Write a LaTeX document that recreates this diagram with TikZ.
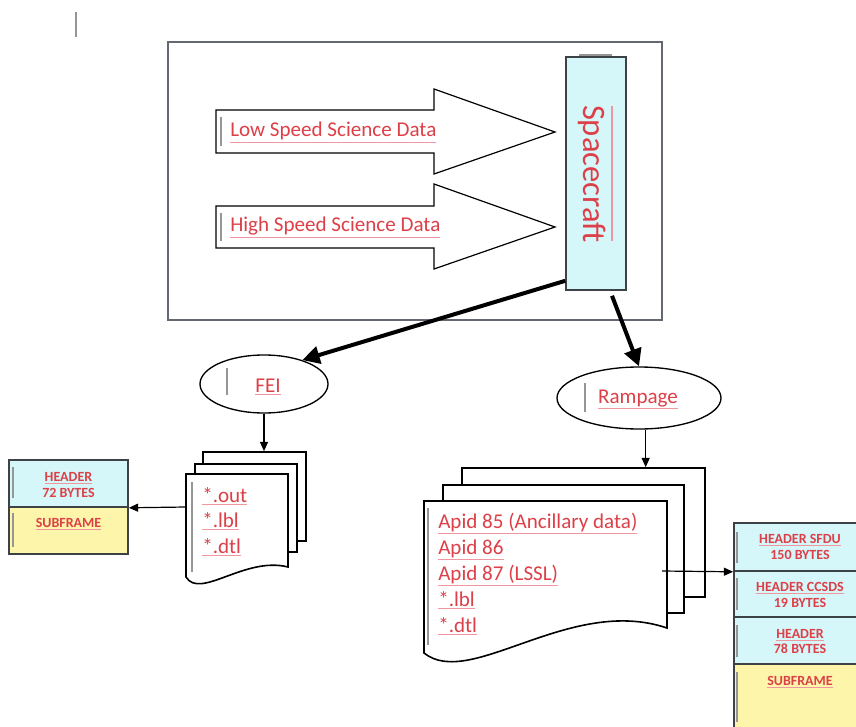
\documentclass[tikz,border=0pt]{standalone}
\usepackage{fontspec}
\setmainfont{Carlito}
\usetikzlibrary{arrows.meta,shapes.geometric,calc}
\definecolor{txtred}{RGB}{221,64,72}
\definecolor{ulpink}{RGB}{240,150,160}
\definecolor{cyanfill}{RGB}{214,247,250}
\definecolor{yelfill}{RGB}{252,245,170}
\definecolor{boxgrey}{RGB}{100,104,115}
\definecolor{barg}{RGB}{150,150,150}
\definecolor{edgegrey}{RGB}{60,66,70}
\newcommand\ulx[1]{\textcolor{ulpink}{\underline{\textcolor{txtred}{#1}}}}
\begin{document}
\begin{tikzpicture}[x=0.75pt,y=-0.75pt,
  lbl/.style={text=txtred,font=\fontsize{15.8}{18}\selectfont,inner sep=0pt},
  hdrtxt/.style={text=txtred,font=\bfseries\fontsize{10.5}{12}\selectfont,inner sep=0pt,align=center},
  bar/.style={draw=barg,line width=0.8pt},
  bigarrow/.style={line width=3pt,-{Triangle[length=13pt,width=13pt]}},
  smallarrow/.style={line width=0.9pt,-{Triangle[length=7pt,width=6pt]}},
  page/.style={draw=black,line width=1.2pt,fill=white,inner sep=0pt},
  fatshape/.style={draw=black,line width=0.9pt,fill=white},
  ellip/.style={ellipse,draw,line width=1pt,fill=white,inner sep=0pt},
  cell/.style={draw=edgegrey,line width=1.2pt,inner sep=0pt}
]
\useasboundingbox (0,0) rectangle (856,727);
\clip (0,0) rectangle (856,727);

% top-left cursor bar
\draw[bar] (76,12) -- (76,37);

% main frame
\node[draw=boxgrey,line width=1.2pt,minimum width=370.5pt,minimum height=208.5pt,inner sep=0pt] (main) at (415,181) {};

% big hollow arrows
\draw[fatshape] (216,110) -- (434,110) -- (434,89) -- (555,132) -- (434,174) -- (434,153) -- (216,153) -- cycle;
\draw[fatshape] (216,206) -- (434,206) -- (434,184) -- (555,227) -- (434,269) -- (434,248) -- (216,248) -- cycle;
\node[lbl,anchor=base west] (low) at (230,137) {\ulx{Low Speed Science Data}};
\node[lbl,anchor=base west] (high) at (230,232) {\ulx{High Speed Science Data}};
\draw[bar] (221,117) -- (221,146);
\draw[bar] (221,213) -- (221,241);

% spacecraft
\node[draw=edgegrey,line width=1.2pt,fill=cyanfill,minimum width=45pt,minimum height=174.75pt,inner sep=0pt] (sc) at (596,173.5) {};
\node[rotate=-90,text=txtred,font=\fontsize{24.5}{28}\selectfont,inner sep=0pt] (sct) at (592,174) {Spacecraft};
\draw[ulpink,line width=0.8pt] (612,106) -- (612,241);
\draw[bar] (579,55) -- (612,55);

% ellipses
\node[ellip,minimum width=96pt,minimum height=43.5pt] (fei) at (264,384) {};
\node[lbl,anchor=base] (feit) at (268,392) {\ulx{FEI}};
\draw[bar] (227,368) -- (227,395);
\node[ellip,minimum width=123pt,minimum height=46.5pt] (ram) at (639,398) {};
\node[lbl,anchor=base] (ramt) at (638,403) {\ulx{Rampage}};
\draw[bar] (585,383) -- (585,412);

% thick arrows
\draw[bigarrow] ([yshift=7.5pt]sc.south west) -- (fei.32);
\draw[bigarrow] ([xshift=12pt,yshift=-3.75pt]sc.south) -- (ram.north);

% FEI document stack
\node[page,minimum width=77.25pt,minimum height=66.75pt] (fp3) at (254.5,496.5) {};
\node[page,minimum width=76.5pt,minimum height=66pt] (fp2) at (246,508) {};
\draw[page] (186,474) -- (288,474) -- (288,567) .. controls (245,556) and (200,600) .. (186,577) -- cycle;
\coordinate (fpw) at (186,507);
\node[lbl,anchor=base west] (f1) at (202,502) {\ulx{*.out}};
\node[lbl,anchor=base west] (f2) at (202,527) {\ulx{*.lbl}};
\node[lbl,anchor=base west] (f3) at (202,553) {\ulx{*.dtl}};
\draw[bar] (192,482) -- (192,572);
\draw[smallarrow] (fei.south) -- (fei.south |- fp3.north);

% left box
\node[cell,fill=cyanfill,minimum width=89.25pt,minimum height=35.25pt] (lb1) at (68.5,483.5) {};
\node[cell,fill=yelfill,minimum width=89.25pt,minimum height=35.25pt] (lb2) at (68.5,530.5) {};
\node[hdrtxt,anchor=base] (lbt1) at (68.5,481) {\ulx{HEADER}};
\node[hdrtxt,anchor=base] (lbt2) at (68.5,497) {72 BYTES};
\node[hdrtxt,anchor=base] (lbt3) at (68.5,527) {\ulx{SUBFRAME}};
\draw[bar] (13,467) -- (13,498);
\draw[bar] (13,513) -- (13,547);
\draw[smallarrow] (fpw) -- (lb1.south east);

% Rampage document stack
\node[page,minimum width=182.25pt,minimum height=96.75pt] (rp3) at (583.5,532.5) {};
\node[page,minimum width=180.75pt,minimum height=96pt] (rp2) at (563.5,549) {};
\draw[page] (424,501) -- (667,501) -- (667,628) .. controls (570,595) and (470,690) .. (424,653) -- cycle;
\node[lbl,anchor=base west] (r1) at (438,528) {\ulx{Apid 85 (Ancillary data)}};
\node[lbl,anchor=base west] (r2) at (438,554) {\ulx{Apid 86}};
\node[lbl,anchor=base west] (r3) at (438,580) {\ulx{Apid 87 (LSSL)}};
\node[lbl,anchor=base west] (r4) at (438,606) {\ulx{*.lbl}};
\node[lbl,anchor=base west] (r5) at (438,632) {\ulx{*.dtl}};
\draw[bar] (428,508) -- (428,645);
\draw[smallarrow] ([xshift=5pt]ram.south) -- ([xshift=5pt]ram.south |- rp3.north);
\coordinate (rpa) at (662,571);

% right box
\node[cell,fill=cyanfill,minimum width=102pt,minimum height=36pt] (rb1) at (802,547) {};
\node[cell,fill=cyanfill,minimum width=102pt,minimum height=34.5pt] (rb2) at (802,594) {};
\node[cell,fill=cyanfill,minimum width=102pt,minimum height=35.25pt] (rb3) at (802,640.5) {};
\node[cell,fill=yelfill,minimum width=102pt,minimum height=57pt] (rb4) at (802,702) {};
\node[hdrtxt,anchor=base] (rt1) at (800,543) {\ulx{HEADER SFDU}};
\node[hdrtxt,anchor=base] (rt2) at (800,559) {150 BYTES};
\node[hdrtxt,anchor=base] (rt3) at (800,591) {\ulx{HEADER CCSDS}};
\node[hdrtxt,anchor=base] (rt4) at (800,607) {19 BYTES};
\node[hdrtxt,anchor=base] (rt5) at (800,638) {\ulx{HEADER}};
\node[hdrtxt,anchor=base] (rt6) at (800,653) {78 BYTES};
\node[hdrtxt,anchor=base] (rt7) at (800,685) {\ulx{SUBFRAME}};
\draw[bar] (737,532) -- (737,563);
\draw[bar] (737,578) -- (737,610);
\draw[bar] (737,625) -- (737,657);
\draw[bar] (737,672) -- (737,722);
\draw[smallarrow] (rpa) -- (rb1.south west);
\end{tikzpicture}
\end{document}
